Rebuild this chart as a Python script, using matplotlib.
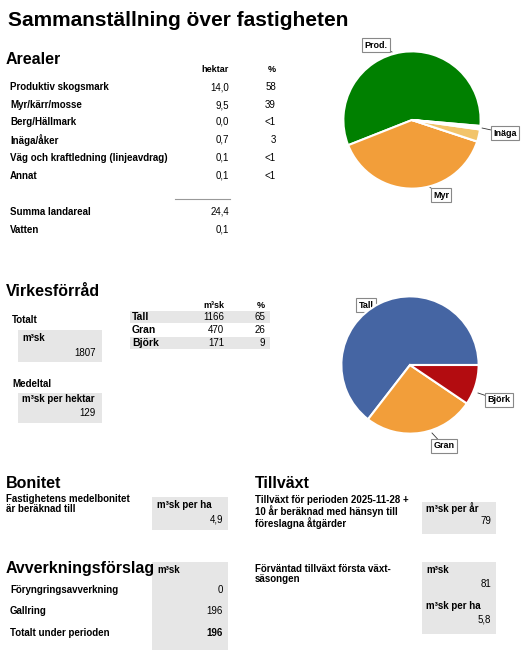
import matplotlib
matplotlib.use("Agg")
import matplotlib.pyplot as plt
from matplotlib.patches import Rectangle

plt.rcParams['font.family'] = ['Liberation Sans', 'DejaVu Sans']

W, H = 524, 653
area_labels = ["Produktiv skogsmark", "Myr/kärr/mosse", "Berg/Hällmark", "Inäga/åker",
               "Väg och kraftledning (linjeavdrag)", "Annat"]
area_ha = [14.0, 9.5, 0.0, 0.7, 0.1, 0.1]
area_pct = ["58", "39", "<1", "3", "<1", "<1"]
area_colors = ["#008000", "#F29E3A", "#999999", "#F2C46A", "#CCCCCC", "#DDDDDD"]
sum_land = 24.4
water = 0.1

species = ["Tall", "Gran", "Björk"]
species_vol = [1166, 470, 171]
species_pct = [65, 26, 9]
species_colors = ["#4565A3", "#F29E3A", "#B30C10"]
total_vol = 1807
vol_per_ha = 129
bonitet = "4,9"
growth_year = 79
growth_first = 81
growth_first_ha = "5,8"
cut_labels = ["Föryngringsavverkning", "Gallring", "Totalt under perioden"]
cut_vals = [0, 196, 196]

fig = plt.figure(figsize=(W/100, H/100), dpi=100)
ax = fig.add_axes([0, 0, 1, 1])
ax.set_xlim(0, W); ax.set_ylim(H, 0); ax.axis('off')

FS = 7

def t(x, y, s, size=FS, bold=False, ha='left', va='center', **kw):
    ax.text(x, y, s, fontsize=size, fontweight='bold' if bold else 'normal', ha=ha, va=va, **kw)

def box(x0, y0, x1, y1):
    ax.add_patch(Rectangle((x0, y0), x1-x0, y1-y0, facecolor='#E6E6E6', edgecolor='none'))

t(8, 20, "Sammanställning över fastigheten", 15, True)
t(6, 60, "Arealer", 11.5, True)
t(229, 69, "hektar", 6.5, True, ha='right')
t(276, 69, "%", 6.5, True, ha='right')
ys = [87, 105, 122, 140, 158, 176]
for y, l, v, p in zip(ys, area_labels, area_ha, area_pct):
    t(10, y, l, FS, True)
    t(229, y, f"{v:.1f}".replace('.', ','), FS, ha='right')
    t(276, y, p, FS, ha='right')
ax.plot([175, 230], [199, 199], color='#999999', lw=0.8)
t(10, 212, "Summa landareal", FS, True)
t(229, 212, f"{sum_land:.1f}".replace('.', ','), FS, ha='right')
t(10, 230, "Vatten", FS, True)
t(229, 230, f"{water:.1f}".replace('.', ','), FS, ha='right')

t(6, 292, "Virkesförråd", 11.5, True)
t(12, 320, "Totalt", FS, True)
box(18, 330, 102, 362)
t(22, 338, "m³sk", FS, True)
t(96, 353, str(total_vol), FS, ha='right')
t(12, 384, "Medeltal", FS, True)
box(18, 393, 102, 423)
t(22, 399, "m³sk per hektar", FS, True)
t(96, 413, str(vol_per_ha), FS, ha='right')
t(224, 305, "m³sk", 6.5, True, ha='right')
t(265, 305, "%", 6.5, True, ha='right')
for i, (s, v, p) in enumerate(zip(species, species_vol, species_pct)):
    y = 317 + i*13
    if i % 2 == 0:
        box(130, y-6, 270, y+6)
    t(132, y, s, 7.5, True)
    t(224, y, str(v), FS, ha='right')
    t(265, y, str(p), FS, ha='right')

t(6, 483, "Bonitet", 11.5, True)
t(6, 504, "Fastighetens medelbonitet\när beräknad till", FS, True, linespacing=1.05)
box(152, 497, 228, 530)
t(157, 505, "m³sk per ha", FS, True)
t(223, 519, bonitet, FS, ha='right')

t(255, 483, "Tillväxt", 11.5, True)
t(255, 512, "Tillväxt för perioden 2025-11-28 +\n10 år beräknad med hänsyn till\nföreslagna åtgärder", FS, True, linespacing=1.05)
box(422, 502, 496, 534)
t(426, 508, "m³sk per år", FS, True)
t(491, 521, str(growth_year), FS, ha='right')

t(6, 569, "Avverkningsförslag", 11.5, True)
box(152, 562, 228, 650)
t(157, 570, "m³sk", FS, True)
for i, (l, v) in enumerate(zip(cut_labels, cut_vals)):
    y = 590 + i*21.5
    last = i == len(cut_labels)-1
    t(10, y, l, FS, True)
    t(223, y, str(v), FS, last, ha='right')

t(255, 574, "Förväntad tillväxt första växt-\nsäsongen", FS, True, linespacing=1.05)
box(422, 562, 496, 634)
t(426, 570, "m³sk", FS, True)
t(491, 584, str(growth_first), FS, ha='right')
t(426, 606, "m³sk per ha", FS, True)
t(491, 620, growth_first_ha, FS, ha='right')

bb = dict(boxstyle='square,pad=0.25', fc='white', ec='#888888', lw=0.8)

def pie(cx, cy, r, vals, cols, labs, start):
    pax = fig.add_axes([(cx-r)/W, 1-(cy+r)/H, 2*r/W, 2*r/H])
    pax.pie(vals, colors=cols, startangle=start, counterclock=True,
            wedgeprops=dict(edgecolor='white', linewidth=1.5))
    pax.set_xlim(-1.02, 1.02); pax.set_ylim(-1.02, 1.02)
    pax.set_aspect('equal')
    for (lx, ly, px, py, s) in labs:
        ax.plot([px, lx], [py, ly], color='#333333', lw=0.6)
        ax.text(lx, ly, s, fontsize=6.5, fontweight='bold', ha='center', va='center', bbox=bb)

pie(412, 120, 70, area_ha, area_colors,
    [(376, 45, 392, 52, "Prod."), (505, 133, 482, 128, "Inäga"), (441, 195, 428, 186, "Myr")], -5)
pie(410, 365, 70, species_vol, species_colors,
    [(366, 305, 382, 312, "Tall"), (499, 400, 478, 393, "Björk"), (444, 446, 432, 433, "Gran")], 0)

fig.savefig("out.png", dpi=100)
